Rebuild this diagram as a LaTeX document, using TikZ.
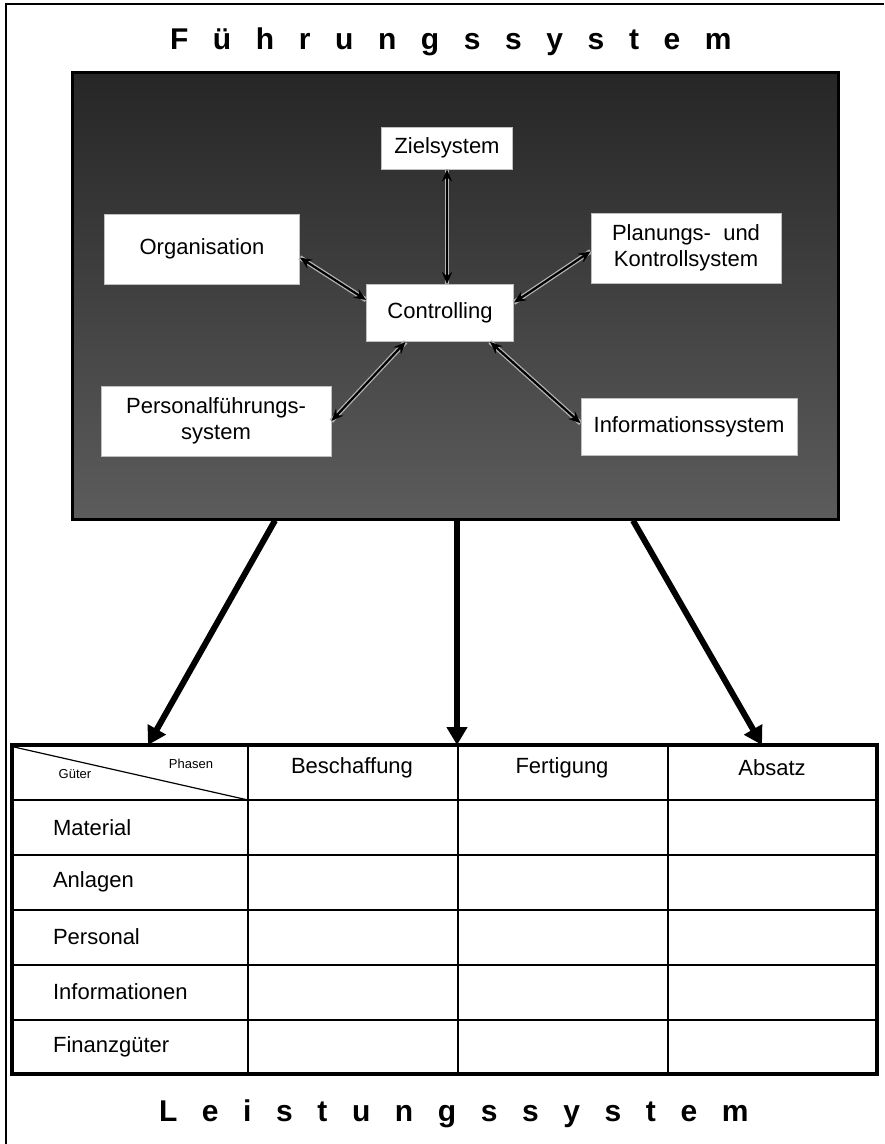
\documentclass[tikz,border=0pt]{standalone}
\usepackage{fontspec}
\setmainfont{Liberation Sans}
\newfontfamily\titlefont[LetterSpace=82]{Liberation Sans}
\usetikzlibrary{arrows.meta,positioning}
\definecolor{fs-top}{HTML}{262626}
\definecolor{fs-mid}{HTML}{2C2C2C}
\definecolor{fs-bottom}{HTML}{5C5C5C}

\begin{document}
\begin{tikzpicture}[x=0.5pt, y=-0.5pt,
    sysbox/.style={draw=black!25, fill=white, align=center, inner sep=2pt,
        font=\fontsize{11}{13}\selectfont},
    link/.style={black, line width=1.1pt, {Stealth[length=6pt,width=5pt]}-{Stealth[length=6pt,width=5pt]},
        preaction={draw=white!70!black, line width=2.4pt, -}},
    bigarrow/.style={-{Triangle[length=9pt,width=10pt]}, line width=3pt},
    cell/.style={font=\fontsize{11}{13}\selectfont},
    tiny/.style={font=\fontsize{6.5}{7}\selectfont},
    title/.style={font=\titlefont\bfseries\fontsize{15}{17}\selectfont, anchor=base west}]
    \useasboundingbox (0,0) rectangle (884,1144);
    \draw[line width=0.6pt] (884,4) -- (6,4) -- (6,1144);

    \node[title] (fuehrung) at (163,50) {Führungssystem};

    % dark block with the subsystems
    \node[draw, line width=1.5pt, top color=fs-top, middle color=fs-mid, bottom color=fs-bottom,
        minimum width=383pt, minimum height=223pt] (fs) at (455,296) {};
    \node[sysbox, minimum width=65.5pt, minimum height=21pt] (ziel) at (447,148) {Zielsystem};
    \node[sysbox, minimum width=73.5pt, minimum height=28.5pt] (ctrl) at (440,313) {Controlling};
    \node[sysbox, minimum width=97.5pt, minimum height=35pt] (org) at (202,249) {Organisation};
    \node[sysbox, minimum width=95pt, minimum height=35pt] (plan) at (686,248) {Planungs-~ und\\Kontrollsystem};
    \node[sysbox, minimum width=115pt, minimum height=35pt] (pers) at (216,421) {Personalführungs-\\system};
    \node[sysbox, minimum width=108pt, minimum height=28.5pt] (info) at (689,427) {Informationssystem};

    \draw[link] (ziel.south) -- (ziel.south |- ctrl.north);
    \draw[link] (org.-5) -- (ctrl.170);
    \draw[link] (pers.east) -- (ctrl.220);
    \draw[link] (ctrl.8) -- (plan.182);
    \draw[link] (ctrl.-30) -- (info.178);

    % arrows down to the table
    \path (fs.south) ++(-180,0) coordinate (aL) ++(182,0) coordinate (aM) ++(176,0) coordinate (aR);
    \coordinate (tL) at (148,745);
    \coordinate (tM) at (457,745);
    \coordinate (tR) at (762,745);
    \draw[bigarrow] (aL) -- (tL);
    \draw[bigarrow] (aM) -- (tM);
    \draw[bigarrow] (aR) -- (tR);

    % table
    \foreach \x in {248,458,668}
        \draw[line width=0.6pt] (\x,745) -- (\x,1074);
    \foreach \y in {800,855,910,965,1020}
        \draw[line width=0.6pt] (12,\y) -- (877,\y);
    \draw[line width=0.6pt] (14,747) -- (248,800);
    \draw[line width=1.8pt] (12,745) rectangle (877,1074);

    \node[tiny] (phasen) at (191,764) {Phasen};
    \node[tiny] (gueter) at (75,774) {Güter};
    \node[cell] (beschaffung) at (352,768) {Beschaffung};
    \node[cell] (fertigung) at (562,768) {Fertigung};
    \node[cell] (absatz) at (772,768) {Absatz};
    \foreach \gut [count=\i] in {Material,Anlagen,Personal,Informationen,Finanzgüter}
        \node[cell, anchor=west] (gut\i) at (46,{800+(\i-0.5)*54.8}) {\gut};

    \node[title] (leistung) at (152,1121) {Leistungssystem};
\end{tikzpicture}
\end{document}
